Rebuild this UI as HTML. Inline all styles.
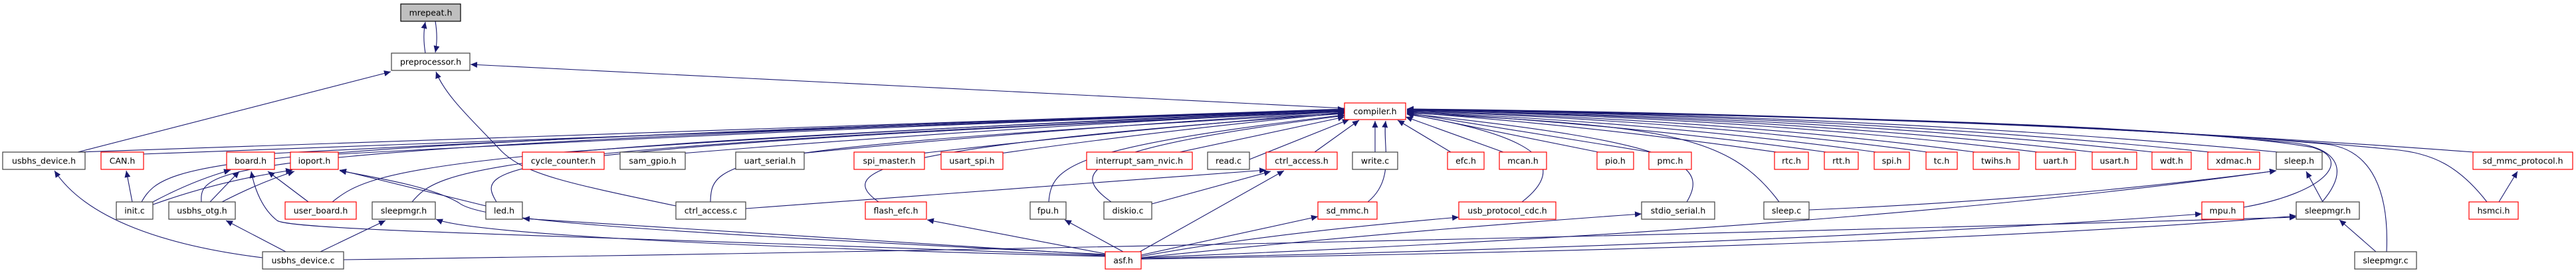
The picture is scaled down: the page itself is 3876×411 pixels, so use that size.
<!DOCTYPE html>
<html><head><meta charset="utf-8">
<style>
html,body{margin:0;padding:0;background:#fff;}
svg{display:block;}
text{font-family:"DejaVu Sans","Liberation Sans",sans-serif;font-size:12.5px;fill:#000;}
.n{fill:#fff;stroke:#404040;stroke-width:1.2;}
.r{fill:#fff;stroke:#ff0000;stroke-width:1.2;}
.e{fill:none;stroke:#191970;stroke-width:1.1;marker-end:url(#a);}
.p{fill:none;stroke:#191970;stroke-width:1.1;}
</style></head><body>
<svg width="3876" height="411" viewBox="0 0 3876 411" xmlns="http://www.w3.org/2000/svg">
<defs><marker id="a" markerUnits="userSpaceOnUse" markerWidth="11" markerHeight="9" refX="10" refY="4.5" orient="auto"><path d="M0,0 L10,4.5 L0,9 z" fill="#191970"/></marker></defs>

<!-- top edges -->
<path class="e" d="M640,80 C637,62 637,48 640,33"/>
<path class="e" d="M655,32 C658,50 658,64 655,79"/>
<path class="e" d="M2023,163 L708,97"/>
<path class="e" d="M117,229 L588,108"/>
<path class="e" d="M1017,310 C850,275 790,262 755,228 C715,185 670,145 656,108"/>

<!-- row D left -> compiler -->
<path class="e" d="M117,229 Q1070,195 2023,164"/>
<path class="e" d="M214,232 Q1100,198 2023,165"/>
<path class="e" d="M411,231 Q1200,190 2023,165"/>
<path class="e" d="M509,232 Q1250,192 2023,166"/>
<path class="e" d="M848,229 Q1400,190 2023,166"/>
<path class="e" d="M1025,231 Q1500,192 2023,167"/>
<path class="e" d="M1205,231 Q1600,192 2023,168"/>
<path class="e" d="M1385,231 Q1700,195 2023,169"/>
<path class="e" d="M1505,231 Q1750,196 2023,170"/>
<path class="e" d="M1775,229 L2023,176"/>
<path class="e" d="M1880,240 L2030,180"/>
<path class="e" d="M1978,229 L2045,181"/>
<path class="e" d="M2069,229 L2069,182"/>

<!-- row E left -> compiler -->
<path class="e" d="M213,304 C250,240 300,222 2023,165"/>
<path class="e" d="M303,304 C300,250 320,222 2023,166"/>
<path class="e" d="M500,304 C560,255 640,222 2023,167"/>
<path class="e" d="M620,304 C660,255 720,222 2023,168"/>
<path class="e" d="M747,304 C715,250 720,225 2023,168"/>
<path class="e" d="M1069,304 C1070,240 1090,222 2023,170"/>
<path class="e" d="M1322,304 C1260,260 1300,222 2023,171"/>
<path class="e" d="M1578,304 C1582,250 1610,222 2023,173"/>
<path class="e" d="M1672,304 C1610,260 1620,225 2023,174"/>

<!-- right side -> compiler -->
<path class="e" d="M2183,229 L2103,181"/>
<path class="e" d="M2262,229 L2115,176"/>
<path class="e" d="M2405,229 L2117,171"/>
<path class="e" d="M2483,229 L2117,170"/>
<path class="e" d="M2673,229 Q2400,190 2117,169"/>
<path class="e" d="M2748,229 Q2450,188 2117,168"/>
<path class="e" d="M2823,229 Q2500,185 2117,168"/>
<path class="e" d="M2900,229 Q2550,182 2117,167"/>
<path class="e" d="M2972,229 Q2600,180 2117,167"/>
<path class="e" d="M3066,229 Q2650,178 2117,166"/>
<path class="e" d="M3150,229 Q2700,177 2117,166"/>
<path class="e" d="M3240,229 Q2750,176 2117,166"/>
<path class="e" d="M3325,229 Q2800,175 2117,165"/>
<path class="e" d="M3428,229 Q2850,174 2117,165"/>
<path class="e" d="M3722,229 Q2950,172 2117,164"/>
<path class="e" d="M2058,304 C2100,270 2080,220 2085,182"/>
<path class="e" d="M2290,304 C2360,250 2320,205 2117,172"/>
<path class="e" d="M2538,304 C2570,250 2540,215 2117,171"/>
<path class="e" d="M2677,304 C2600,200 2500,190 2117,170"/>
<path class="e" d="M3376,312 C3500,290 3540,240 3480,222 C3300,190 2800,175 2117,165"/>
<path class="e" d="M3494,304 C3540,250 3510,222 3450,215 C3200,190 2800,175 2117,165"/>
<path class="e" d="M3591,379 C3595,290 3570,225 3500,217 C3200,190 2800,175 2117,164"/>
<path class="e" d="M3742,304 C3700,250 3660,230 3600,225 C3300,195 2800,175 2117,164"/>

<!-- other edges -->
<path class="e" d="M199,304 L190,257"/>
<path class="e" d="M230,304 Q290,272 347,256"/>
<path class="e" d="M230,308 Q330,272 440,256"/>
<path class="e" d="M316,304 L360,258"/>
<path class="e" d="M334,304 Q390,275 443,258"/>
<path class="e" d="M464,304 L403,258"/>
<path class="e" d="M1663,385 C900,355 440,348 417,332 C395,315 383,285 378,258"/>
<path class="e" d="M731,310 Q650,290 511,256"/>
<path class="e" d="M1663,383 C900,345 720,330 690,305 C650,282 580,270 511,257"/>
<path class="e" d="M395,388 C250,370 130,330 82,257"/>
<path class="e" d="M430,379 L340,332"/>
<path class="e" d="M482,379 L580,332"/>
<path class="e" d="M517,391 Q2000,370 3455,327"/>
<path class="e" d="M1663,386 C1000,370 700,348 656,330"/>
<path class="e" d="M1663,384 L787,329"/>
<path class="e" d="M1690,379 L1602,331"/>
<path class="e" d="M1715,379 L1932,257"/>
<path class="e" d="M1122,314 L1905,256"/>
<path class="e" d="M1733,307 L1912,258"/>
<path class="e" d="M1663,382 L1395,331"/>
<path class="e" d="M1717,384 L1983,326"/>
<path class="e" d="M1717,386 Q1900,352 2195,327"/>
<path class="e" d="M1717,388 Q2100,348 2470,322"/>
<path class="e" d="M2722,316 Q3100,300 3425,257"/>
<path class="e" d="M1717,388 Q2800,345 3425,257"/>
<path class="e" d="M1717,389 Q2700,368 3313,322"/>
<path class="e" d="M1717,390 Q2900,372 3455,325"/>
<path class="e" d="M3495,304 L3470,258"/>
<path class="e" d="M3575,379 L3520,331"/>
<path class="e" d="M3760,304 L3788,258"/>

<!-- nodes -->
<g>
<rect x="603" y="6" width="90" height="26" fill="#bfbfbf" stroke="#000" stroke-width="1.2"/><text x="648" y="23.5" text-anchor="middle">mrepeat.h</text>
<rect class="n" x="589" y="80" width="118" height="26"/><text x="648" y="97.5" text-anchor="middle">preprocessor.h</text>
<rect class="r" x="2023" y="155" width="92" height="25"/><text x="2069" y="172" text-anchor="middle">compiler.h</text>

<rect class="n" x="4" y="229" width="124" height="26"/><text x="66" y="246.5" text-anchor="middle">usbhs_device.h</text>
<rect class="r" x="152" y="229" width="64" height="26"/><text x="184" y="246.5" text-anchor="middle">CAN.h</text>
<rect class="r" x="341" y="229" width="72" height="26"/><text x="377" y="246.5" text-anchor="middle">board.h</text>
<rect class="r" x="437" y="229" width="72" height="26"/><text x="473" y="246.5" text-anchor="middle">ioport.h</text>
<rect class="r" x="786" y="229" width="123" height="26"/><text x="847.5" y="246.5" text-anchor="middle">cycle_counter.h</text>
<rect class="n" x="933" y="229" width="98" height="26"/><text x="982" y="246.5" text-anchor="middle">sam_gpio.h</text>
<rect class="n" x="1107" y="229" width="103" height="26"/><text x="1158.5" y="246.5" text-anchor="middle">uart_serial.h</text>
<rect class="r" x="1285" y="229" width="106" height="26"/><text x="1338" y="246.5" text-anchor="middle">spi_master.h</text>
<rect class="r" x="1416" y="229" width="93" height="26"/><text x="1462.5" y="246.5" text-anchor="middle">usart_spi.h</text>
<rect class="r" x="1635" y="229" width="159" height="26"/><text x="1714.5" y="246.5" text-anchor="middle">interrupt_sam_nvic.h</text>
<rect class="n" x="1817" y="229" width="63" height="26"/><text x="1848.5" y="246.5" text-anchor="middle">read.c</text>
<rect class="r" x="1905" y="229" width="107" height="26"/><text x="1958.5" y="246.5" text-anchor="middle">ctrl_access.h</text>
<rect class="n" x="2035" y="229" width="68" height="26"/><text x="2069" y="246.5" text-anchor="middle">write.c</text>
<rect class="r" x="2178" y="229" width="55" height="26"/><text x="2205.5" y="246.5" text-anchor="middle">efc.h</text>
<rect class="r" x="2256" y="229" width="71" height="26"/><text x="2291.5" y="246.5" text-anchor="middle">mcan.h</text>
<rect class="r" x="2403" y="229" width="55" height="26"/><text x="2430.5" y="246.5" text-anchor="middle">pio.h</text>
<rect class="r" x="2481" y="229" width="64" height="26"/><text x="2513" y="246.5" text-anchor="middle">pmc.h</text>
<rect class="r" x="2670" y="229" width="51" height="26"/><text x="2695.5" y="246.5" text-anchor="middle">rtc.h</text>
<rect class="r" x="2745" y="229" width="51" height="26"/><text x="2770.5" y="246.5" text-anchor="middle">rtt.h</text>
<rect class="r" x="2820" y="229" width="53" height="26"/><text x="2846.5" y="246.5" text-anchor="middle">spi.h</text>
<rect class="r" x="2898" y="229" width="47" height="26"/><text x="2921.5" y="246.5" text-anchor="middle">tc.h</text>
<rect class="r" x="2969" y="229" width="69" height="26"/><text x="3003.5" y="246.5" text-anchor="middle">twihs.h</text>
<rect class="r" x="3063" y="229" width="60" height="26"/><text x="3093" y="246.5" text-anchor="middle">uart.h</text>
<rect class="r" x="3148" y="229" width="67" height="26"/><text x="3181.5" y="246.5" text-anchor="middle">usart.h</text>
<rect class="r" x="3238" y="229" width="59" height="26"/><text x="3267.5" y="246.5" text-anchor="middle">wdt.h</text>
<rect class="r" x="3322" y="229" width="78" height="26"/><text x="3361" y="246.5" text-anchor="middle">xdmac.h</text>
<rect class="n" x="3425" y="229" width="69" height="26"/><text x="3459.5" y="246.5" text-anchor="middle">sleep.h</text>
<rect class="r" x="3721" y="229" width="150" height="26"/><text x="3796" y="246.5" text-anchor="middle">sd_mmc_protocol.h</text>

<rect class="n" x="175" y="304" width="55" height="26"/><text x="202.5" y="321.5" text-anchor="middle">init.c</text>
<rect class="n" x="254" y="304" width="100" height="26"/><text x="304" y="321.5" text-anchor="middle">usbhs_otg.h</text>
<rect class="r" x="429" y="304" width="107" height="26"/><text x="482.5" y="321.5" text-anchor="middle">user_board.h</text>
<rect class="n" x="560" y="304" width="95" height="26"/><text x="607.5" y="321.5" text-anchor="middle">sleepmgr.h</text>
<rect class="n" x="731" y="304" width="55" height="26"/><text x="758.5" y="321.5" text-anchor="middle">led.h</text>
<rect class="n" x="1017" y="304" width="105" height="26"/><text x="1069.5" y="321.5" text-anchor="middle">ctrl_access.c</text>
<rect class="r" x="1302" y="304" width="92" height="26"/><text x="1348" y="321.5" text-anchor="middle">flash_efc.h</text>
<rect class="n" x="1550" y="304" width="54" height="26"/><text x="1577" y="321.5" text-anchor="middle">fpu.h</text>
<rect class="n" x="1661" y="304" width="72" height="26"/><text x="1697" y="321.5" text-anchor="middle">diskio.c</text>
<rect class="r" x="1983" y="304" width="89" height="26"/><text x="2027.5" y="321.5" text-anchor="middle">sd_mmc.h</text>
<rect class="r" x="2195" y="304" width="146" height="26"/><text x="2268" y="321.5" text-anchor="middle">usb_protocol_cdc.h</text>
<rect class="n" x="2470" y="304" width="110" height="26"/><text x="2525" y="321.5" text-anchor="middle">stdio_serial.h</text>
<rect class="n" x="2654" y="304" width="68" height="26"/><text x="2688" y="321.5" text-anchor="middle">sleep.c</text>
<rect class="r" x="3313" y="304" width="63" height="26"/><text x="3344.5" y="321.5" text-anchor="middle">mpu.h</text>
<rect class="n" x="3455" y="304" width="95" height="26"/><text x="3502.5" y="321.5" text-anchor="middle">sleepmgr.h</text>
<rect class="r" x="3715" y="304" width="74" height="26"/><text x="3752" y="321.5" text-anchor="middle">hsmci.h</text>

<rect class="n" x="395" y="379" width="122" height="26"/><text x="456" y="396.5" text-anchor="middle">usbhs_device.c</text>
<rect class="r" x="1663" y="379" width="54" height="26"/><text x="1690" y="396.5" text-anchor="middle">asf.h</text>
<rect class="n" x="3543" y="379" width="93" height="26"/><text x="3589.5" y="396.5" text-anchor="middle">sleepmgr.c</text>
</g>
</svg>
</body></html>
